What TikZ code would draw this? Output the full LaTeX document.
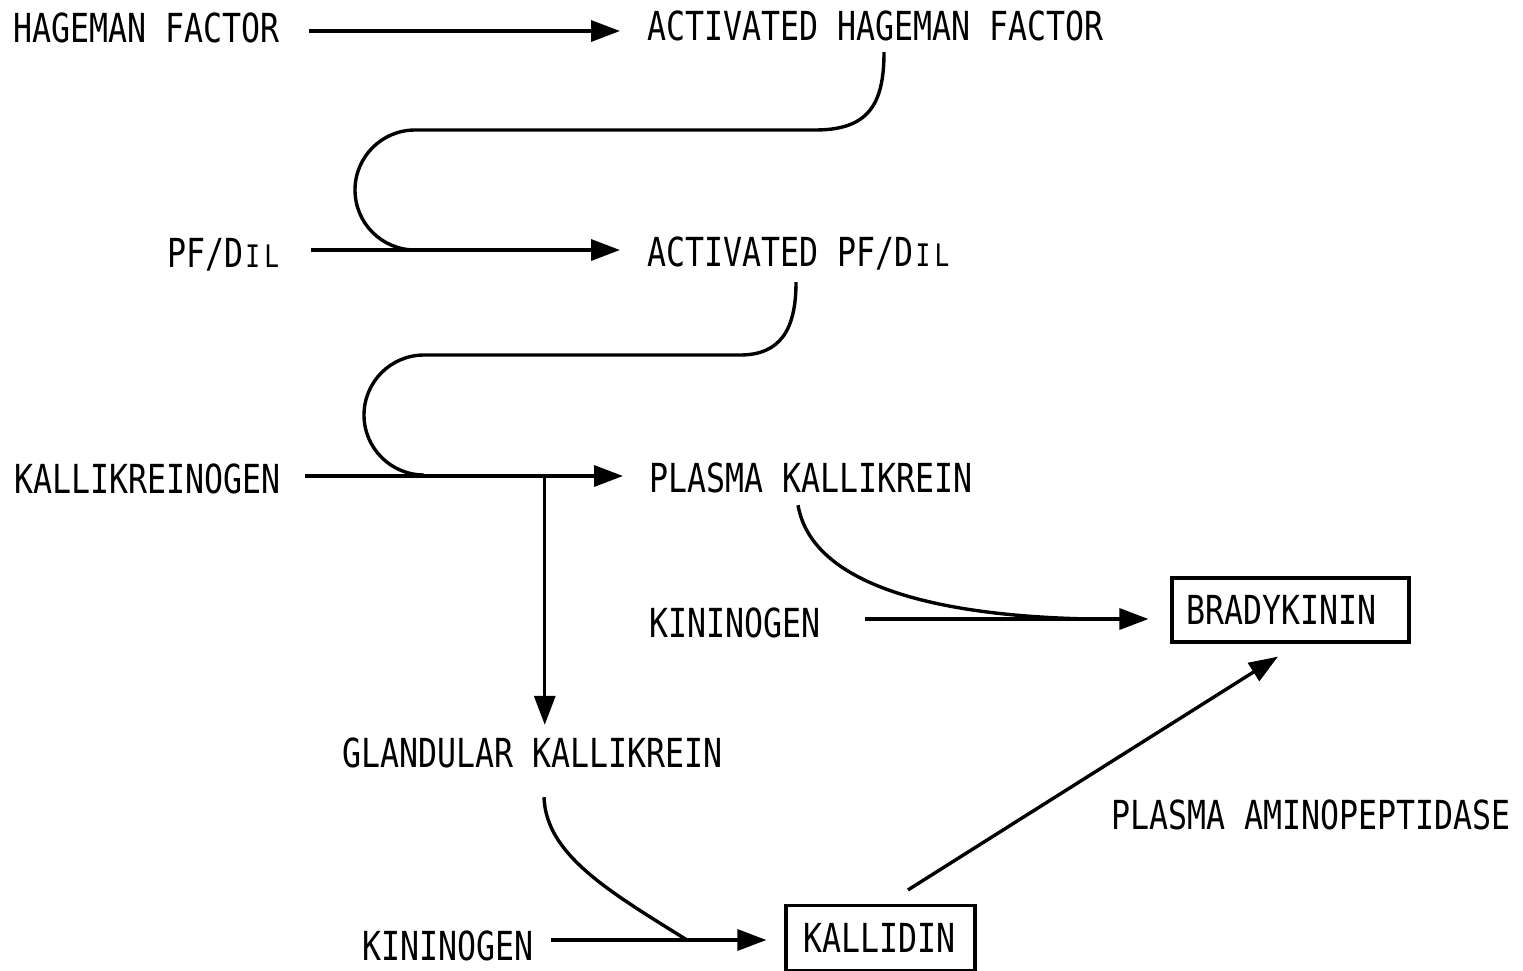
\documentclass[tikz,border=0pt]{standalone}
\usepackage{fontspec}
\usetikzlibrary{arrows.meta,calc}
\newfontfamily\labfont[FakeStretch=0.79]{DejaVu Sans Mono}
% small capital in a full-width cell of the condensed mono font
\newcommand\smallcap[1]{\makebox[19pt]{\fontsize{31}{31}\selectfont #1}}
\tikzset{
  lab/.style={inner sep=0pt, anchor=base west, text height=29pt, text depth=0pt,
              font=\labfont\fontsize{40}{48}\selectfont},
  boxed/.style={draw, line width=3.2pt, inner sep=0pt, text height=29pt, text depth=0pt,
                font=\labfont\fontsize{40}{48}\selectfont},
  ln/.style={line width=3.4pt},
  arr/.style={line width=3.4pt, -{Triangle[length=29pt,width=21pt]}}
}
\begin{document}
\begin{tikzpicture}[x=1pt,y=-1pt]
\useasboundingbox (0,0) rectangle (1523,970);

% labels
\node[lab] (hf)  at (13,42)   {HAGEMAN FACTOR};
\node[lab] (ahf) at (647,40)  {ACTIVATED HAGEMAN FACTOR};
\node[lab] (pf)  at (167,267) {PF/D\smallcap{I}\smallcap{L}};
\node[lab] (apf) at (647,266) {ACTIVATED PF/D\smallcap{I}\smallcap{L}};
\node[lab] (kg)  at (14,493)  {KALLIKREINOGEN};
\node[lab] (pk)  at (649,492) {PLASMA KALLIKREIN};
\node[lab] (kn1) at (649,637) {KININOGEN};
\node[lab] (glk) at (342,767) {GLANDULAR KALLIKREIN};
\node[lab] (pap) at (1111,829) {PLASMA AMINOPEPTIDASE};
\node[lab] (kn2) at (362,960) {KININOGEN};

\node[boxed, minimum width=237pt, minimum height=64pt, text width=209pt,
      align=left, inner xsep=14pt] (bk) at (1290.5,610) {BRADYKININ};
\node[boxed, minimum width=189pt, minimum height=65pt, text width=155pt,
      align=left, inner xsep=17pt] (kd) at (880.5,938) {KALLIDIN};

% main activation arrows
\draw[arr] ($(hf.east)+(29,3.5)$) -- ($(hf.east -| ahf.west)+(-27,3.5)$);
\draw[arr] ($(pf.east)+(29,-2.5)$) -- ($(pf.east -| apf.west)+(-27,-2.5)$);
\draw[arr] ($(kg.east)+(24,-2.5)$) -- ($(kg.east -| pk.west)+(-26,-2.5)$);
\coordinate (split) at ($(kg.east)+(264,-2.5)$);
\draw[arr] (split) -- ($(split |- glk.north)+(0,-13)$);
\draw[arr] ($(kn1.east)+(44,-3.5)$) -- ($(kn1.east -| bk.west)+(-22,-3.5)$);
\draw[arr] ($(kn2.east)+(17,-5.5)$) -- ($(kn2.east -| kd.west)+(-18,-5.5)$);
\draw[arr] ($(kd.north)+(27.5,-14)$) -- ($(bk.south)+(-12.5,13)$);

% enzyme loops
\draw[ln] ($(ahf.south west)+(237,12)$)
  .. controls (884,105) and (868,130) .. (815,130) -- (415,130)
  .. controls (381.9,130) and (355,156.9) .. (355,190)
  .. controls (355,223.1) and (381.9,250) .. (415,250);
\draw[ln] ($(apf.south west)+(149,16)$)
  .. controls (796,330) and (780,355) .. (740,355) -- (424,355)
  .. controls (390.9,355) and (364,381.9) .. (364,415)
  .. controls (364,448.1) and (390.9,475) .. (424,475);
\draw[ln] ($(pk.south west)+(149,13)$)
  .. controls (812,585) and (935,616) .. (1090,619);
\draw[ln] ($(glk.south west)+(202,30)$)
  .. controls (546,855) and (610,892) .. (687,940);
\end{tikzpicture}
\end{document}
